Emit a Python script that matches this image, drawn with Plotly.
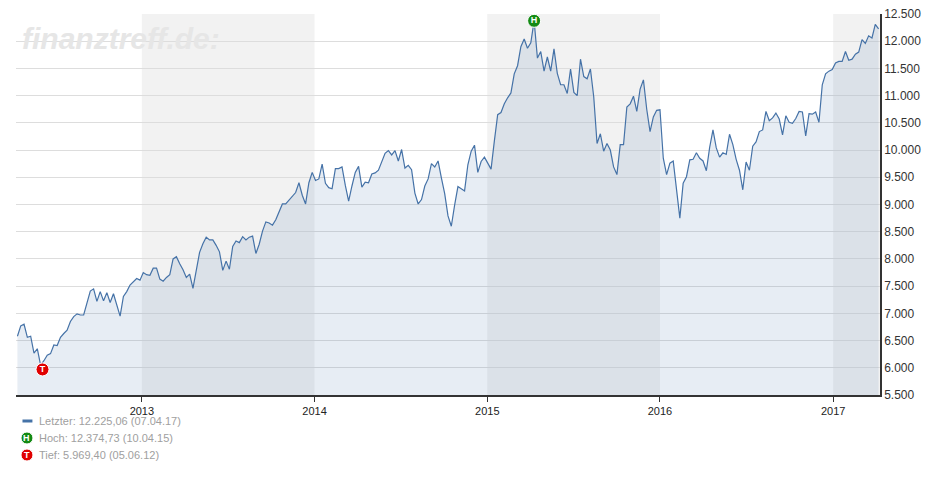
import pandas as pd
import plotly.graph_objects as go

v2012 = [6580,6770,6800,6560,6580,6270,6350,6050,6130,6230,6260,6420,6410,6560,6630,6690,6850,6940,6990,6970,6970,7210,7410,7450,7220,7400,7230,7380,7200,7360,7160,6950,7310,7400,7520,7590,7640,7610]
v2013 = [7750,7710,7700,7830,7830,7630,7590,7660,7710,8000,8040,7910,7800,7660,7720,7460,7810,8120,8280,8400,8350,8350,8250,8130,7790,7960,7810,8230,8330,8300,8410,8350,8400,8420,8100,8270,8510,8680,8660,8620,8720,8870,9010,9010,9080,9170,9220,9400,9170,9010,9400,9590]
v2014 = [9440,9470,9740,9390,9310,9290,9660,9660,9690,9350,9060,9340,9590,9700,9320,9410,9400,9560,9580,9630,9770,9940,9990,9910,9990,9800,10010,9670,9720,9640,9210,9010,9090,9340,9470,9750,9690,9800,9490,9200,8790,8600,8990,9330,9290,9250,9730,9980,10090,9590,9790,9870]
v2015 = [9760,9650,10170,10650,10690,10850,10960,11050,11400,11550,11900,12040,11870,11970,12375,11690,11810,11450,11710,11450,11860,11410,11200,11200,11040,11490,11060,11000,11670,11350,11310,11490,10980,10120,10300,9980,10120,10000,9690,9550,10100,10100,10790,10850,10990,10710,11120,11290,10750,10340,10610,10730]
v2016 = [10740,9850,9550,9760,9800,9290,8750,9390,9510,9820,9830,9950,9850,9800,9620,10050,10370,10040,9870,9950,9920,10290,10100,9830,9630,9270,9780,9630,10070,10150,10340,10370,10710,10540,10590,10680,10570,10280,10630,10510,10490,10580,10710,10700,10260,10670,10660,10700,10510,11200,11400,11450,11480]
v2017 = [11600,11630,11630,11810,11650,11670,11760,11800,12030,11960,12100,12060,12310,12225]
values = v2012 + v2013 + v2014 + v2015 + v2016 + v2017
dates = pd.date_range(end="2017-04-07", periods=len(values), freq="W-FRI")

high_date, high_val = "2015-04-10", 12374.73
low_date, low_val = "2012-06-05", 5969.40
yticks = list(range(5500, 13000, 500))
legend_texts = ["Letzter: 12.225,06 (07.04.17)", "Hoch: 12.374,73 (10.04.15)", "Tief: 5.969,40 (05.06.12)"]

PH = 381.0
def py(px_below):  # paper y for a pixel offset below the plot bottom
    return -px_below / PH

fig = go.Figure()
fig.add_trace(go.Scatter(x=dates, y=values, mode="lines", line=dict(color="#4572a7", width=1.2),
                         fill="tozeroy", fillcolor="rgba(69,114,167,0.13)", hoverinfo="skip"))
fig.add_trace(go.Scatter(x=[high_date], y=[high_val], mode="markers+text", text=["<b>H</b>"],
                         textposition="middle center", textfont=dict(color="white", size=9, family="Liberation Sans"),
                         marker=dict(size=13, color="#138a13", line=dict(color="white", width=1))))
fig.add_trace(go.Scatter(x=[low_date], y=[low_val], mode="markers+text", text=["<b>T</b>"],
                         textposition="middle center", textfont=dict(color="white", size=9, family="Liberation Sans"),
                         marker=dict(size=13, color="#e00000", line=dict(color="white", width=1))))

shapes = []
for a, b in [("2013-01-01", "2014-01-01"), ("2015-01-01", "2016-01-01"), ("2017-01-01", "2017-04-10")]:
    shapes.append(dict(type="rect", xref="x", yref="paper", x0=a, x1=b, y0=0, y1=1,
                       fillcolor="#f2f2f2", line_width=0, layer="below"))
leg_y = [py(26), py(43), py(60)]
shapes.append(dict(type="line", xref="paper", yref="paper", x0=0.0075, x1=0.019, y0=leg_y[0], y1=leg_y[0],
                   line=dict(color="#4572a7", width=3)))
icon_colors = ["#138a13", "#e00000"]
ann = []
for i, (c, letter) in enumerate(zip(icon_colors, ["H", "T"])):
    shapes.append(dict(type="circle", xref="paper", yref="paper", xsizemode="pixel", ysizemode="pixel",
                       xanchor=0.0127, yanchor=leg_y[i + 1], x0=-6, x1=6, y0=-6, y1=6, layer="below",
                       fillcolor=c, line=dict(color="white", width=1)))
    ann.append(dict(xref="paper", yref="paper", x=0.0127, y=leg_y[i + 1], yanchor="middle", xanchor="center",
                    text="<b>" + letter + "</b>",
                    showarrow=False, font=dict(color="white", size=9, family="Liberation Sans")))
for t, yy in zip(legend_texts, leg_y):
    ann.append(dict(xref="paper", yref="paper", x=0.0243, y=yy, text=t, xanchor="left", yanchor="middle",
                    showarrow=False, font=dict(color="#a0a0a0", size=11, family="Liberation Sans")))
ann.append(dict(xref="paper", yref="paper", x=0.005, y=0.985, xanchor="left", yanchor="top",
                text="<b><i>finanztreff.de:</i></b>", showarrow=False,
                font=dict(color="#e6e6e6", size=30, family="Liberation Sans")))

fig.update_layout(
    width=940, height=500, margin=dict(l=8, r=68, t=6, b=113, autoexpand=False),
    paper_bgcolor="white", plot_bgcolor="white", showlegend=False,
    separators=",.", shapes=shapes, annotations=ann,
    xaxis=dict(range=["2012-04-10", "2017-04-10"], showgrid=False, showline=True, linecolor="#333",
               linewidth=1.5, ticks="outside", ticklen=5, tickcolor="#333", dtick="M12",
               tick0="2013-01-01", tickformat="%Y", tickfont=dict(size=11, color="#222", family="Liberation Sans")),
    yaxis=dict(range=[5500, 12500], side="right", tickvals=yticks, tickformat=",d", gridcolor="#dddddd",
               showline=True, linecolor="#333", linewidth=1.5, zeroline=False, ticklabeloverflow="allow",
               tickfont=dict(size=12, color="#333", family="Liberation Sans")),
)
fig.write_html("out.html")
